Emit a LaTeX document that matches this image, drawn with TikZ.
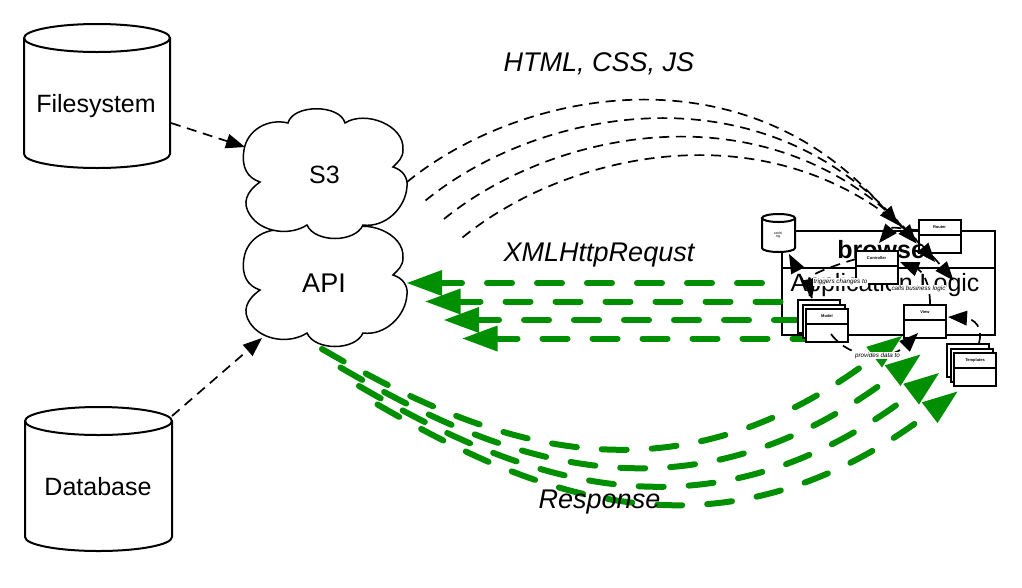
\documentclass[tikz,border=0pt]{standalone}
\usepackage{fontspec}
\setmainfont{Liberation Sans}
\usetikzlibrary{arrows.meta}
\definecolor{flowgreen}{HTML}{008F00}
\newcommand{\fsz}[1]{\fontsize{#1}{#1}\selectfont}
\tikzset{
  x=1pt,y=-1pt,
  bigtext/.style={inner sep=0pt,font=\fsz{25}},
  ittext/.style={inner sep=0pt,font=\fsz{27}\itshape},
  edgelabel/.style={fill=white,inner sep=1pt,font=\fsz{6.3}\itshape},
  boxtitle/.style={inner sep=0pt,font=\fsz{4}\bfseries},
  umlrect/.style={draw=black,fill=white,line width=2pt,minimum width=42pt,minimum height=33pt,inner sep=0pt},
  blackflow/.style={draw=black,line width=1.7pt,dash pattern=on 10pt off 6.7pt,-{Triangle[length=19pt,width=15pt,line width=0pt]}},
  greenflow/.style={draw=flowgreen,line width=6pt,line cap=round,dash pattern=on 25pt off 25pt,-{Triangle[length=35pt,width=26pt,line width=0pt]}},
}
% name, cx, top, bottom, rx, ry, line width
\newcommand{\cyl}[7]{%
  \path[fill=white,draw=black,line width=#7pt,line join=round] (#2-#5,#3+#6) -- (#2-#5,#4-#6) arc[start angle=180,end angle=360,x radius=#5pt,y radius=#6pt] -- (#2+#5,#3+#6);
  \draw[fill=white,line width=#7pt] (#2,#3+#6) ellipse[x radius=#5pt,y radius=#6pt];
  \coordinate (#1) at (#2,{(#3+#4)/2});
}
% name, cx, top, title
\newcommand{\umlbox}[4]{%
  \node[umlrect,anchor=north] (#1) at (#2,#3) {};
  \draw[line width=2pt] ([yshift=-16pt]#1.north west) -- ([yshift=-16pt]#1.north east);
  \node[boxtitle] (#1title) at (#2,#3+8) {#4};
}
\newcommand{\cloudpath}{%
  (288,123) .. controls (293,104) and (340,104) .. (345,123)
  .. controls (365,110) and (405,125) .. (403,150)
  .. controls (403,158) and (398,162) .. (393,167)
  .. controls (403,170) and (408,178) .. (407,186)
  .. controls (406,208) and (385,228) .. (363,225)
  .. controls (355,243) and (315,243) .. (307,225)
  .. controls (290,236) and (262,233) .. (250,215)
  .. controls (242,203) and (246,192) .. (260,182)
  .. controls (248,178) and (241,168) .. (244,150)
  .. controls (247,130) and (268,118) .. (288,123) -- cycle}
\begin{document}
\begin{tikzpicture}
\useasboundingbox (0,0) rectangle (1022,587);

% storage
\cyl{fs}{97}{24}{168}{73}{14}{2}
\node[bigtext] (fstext) at (96,106) {Filesystem};
\cyl{db}{98.5}{407}{551}{73.5}{14}{2}
\node[bigtext] (dbtext) at (98,487) {Database};

% clouds
\begin{scope}[shift={(0,108)}]
  \draw[fill=white,line width=1.5pt] \cloudpath;
\end{scope}
\draw[fill=white,line width=1.5pt] \cloudpath;
\node[bigtext] (s3) at (324.5,175) {S3};
\node[bigtext,font=\fsz{27}] (api) at (324,283) {API};

\coordinate (fsout) at (171,123);
\coordinate (s3in) at (245,147);
\coordinate (dbout) at (172,416);
\coordinate (apiin) at (262,338);
\draw[blackflow] (fsout) -- (s3in);
\draw[blackflow] (dbout) -- (apiin);

% browser
\node[draw=black,line width=2pt,minimum width=213pt,minimum height=104pt,inner sep=0pt,anchor=north west] (browser) at (781,230) {};
\draw[line width=2pt] (781,268) -- (994,268);
\node[inner sep=0pt,font=\fsz{25}\bfseries] (browsertext) at (886,250) {browser};
\node[bigtext] (logic) at (885,285) {Application Logic};

% green requests
\foreach \n/\xa/\ya/\xb in {a/762/283/407,b/780.5/301.5/425.5,c/799/320/444,d/817.5/338.5/462.5}{
  \coordinate (req\n s) at (\xa,\ya);
  \coordinate (req\n e) at (\xb,\ya);
  \draw[greenflow] (req\n s) -- (req\n e);
}
% green responses
\foreach \n/\d in {a/0,b/18.5,c/37,d/55.5}{
  \begin{scope}[shift={(\d,\d)}]
    \coordinate (res\n s) at (322,349);
    \coordinate (res\n e) at (902,336);
    \draw[greenflow] (res\n s) .. controls (472,436) and (660,520) .. (res\n e);
  \end{scope}
}

% inner boxes
\cyl{caching}{778.5}{214}{252}{16.5}{4}{2}
\node[inner sep=0pt,align=center,font=\fsz{3.6}] (cachingtext) at (778,235) {cachi\\[-0.3pt]ng};
\node[umlrect,anchor=north west] (modelb) at (797,299) {};
\node[umlrect,anchor=north west] (modela) at (801.5,303.5) {};
\umlbox{model}{827}{308}{Model}
\umlbox{router}{939.5}{219}{Router}
\umlbox{controller}{876.5}{250}{Controller}
\umlbox{view}{925}{304}{View}
\node[umlrect,anchor=north west] (templatesb) at (945.5,343) {};
\node[umlrect,anchor=north west] (templatesa) at (950,347.5) {};
\umlbox{templates}{975}{352}{Templates}

% inner connectors
\coordinate (cachein) at (789,254);
\coordinate (modeltop) at (812,298);
\coordinate (modelin) at (812,298);
\coordinate (ctrlleft) at (856,259);
\coordinate (ctrlin) at (879,243);
\coordinate (ctrlright) at (900,262);
\coordinate (viewtop) at (930,304);
\coordinate (viewright) at (948,317);
\coordinate (viewbottom) at (918,333);
\coordinate (modelbottom) at (831,334);
\coordinate (tpltop) at (979,343);
\coordinate (routerleft) at (918,230);
\draw[blackflow] (modeltop) -- (cachein);
\draw[blackflow] (ctrlleft) .. controls (835,265) and (808,275) .. (modelin);
\draw[blackflow] (routerleft) .. controls (907,230) and (893,226) .. (ctrlin);
\draw[blackflow] (viewtop) .. controls (930,282) and (922,271) .. (ctrlright);
\draw[blackflow] (tpltop) .. controls (985,320) and (965,318) .. (viewright);
\draw[blackflow] (modelbottom) .. controls (850,360) and (890,361) .. (viewbottom);

% labels
\node[edgelabel] (ltrig) at (840.5,282) {triggers changes to};
\node[edgelabel] (lcalls) at (918.5,289) {calls business logic};
\node[edgelabel] (lprov) at (877.5,355.5) {provides data to};

% black arcs on top
\foreach \n/\d in {a/0,b/18.5,c/37,d/55.5}{
  \begin{scope}[shift={(\d,\d)}]
    \coordinate (arc\n s) at (407,182);
    \coordinate (arc\n e) at (898,225);
    \draw[blackflow] (arc\n s) .. controls (520,90) and (745,45) .. (arc\n e);
  \end{scope}
}

% captions
\node[ittext] (htmlcap) at (599,64) {HTML, CSS, JS};
\node[ittext] (xhrcap) at (599,255) {XMLHttpRequst};
\node[ittext] (respcap) at (599.5,502) {Response};
\end{tikzpicture}
\end{document}
